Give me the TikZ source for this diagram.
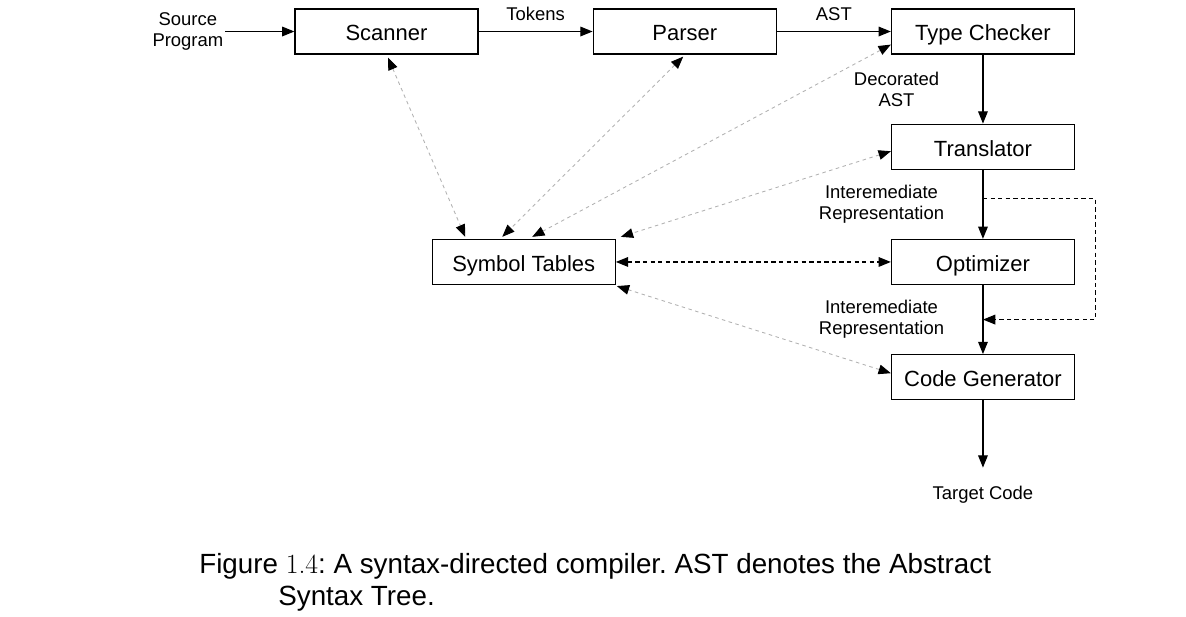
\documentclass[tikz,border=0pt]{standalone}
\usepackage{fontspec}
\setsansfont{Liberation Sans}
\renewcommand{\familydefault}{\sfdefault}
\frenchspacing
\usetikzlibrary{positioning, arrows.meta}

\begin{document}
\begin{tikzpicture}[
  box/.style={draw, line width=0.7pt, minimum width=3.66cm, minimum height=0.9cm, inner sep=0pt, text height=10.8pt, text depth=0pt, font=\fontsize{12.5}{15}\selectfont},
  lbl/.style={align=center, inner sep=1pt, font=\fontsize{10.5}{12}\selectfont},
  captext/.style={inner sep=0pt, font=\fontsize{15.8}{18}\selectfont},
  arr/.style={-{Triangle[length=7pt, width=5.5pt]}, line width=0.7pt},
  dasharr/.style={arr, dash pattern=on 2.5pt off 1.8pt},
  both/.style={{Triangle[length=7pt, width=5.5pt]}-{Triangle[length=7pt, width=5.5pt]}, line width=0.7pt, dash pattern=on 2.5pt off 1.8pt},
  symlink/.style={{Triangle[length=7pt, width=5.5pt, color=black]}-{Triangle[length=7pt, width=5.5pt, color=black]}, gray!60, line width=0.5pt, dash pattern=on 2pt off 2pt}]
\useasboundingbox (0,0) rectangle (23.72,-12.32);
\node[box] (scanner) at (7.73,-0.63) {Scanner};
\node[box, right=2.28cm of scanner] (parser) {Parser};
\node[box, right=2.28cm of parser] (typechk) {Type Checker};
\node[box, below=1.38cm of typechk] (transl) {Translator};
\node[box, below=1.38cm of transl] (optim) {Optimizer};
\node[box, below=1.38cm of optim] (codegen) {Code Generator};
\node[box, left=5.5cm of optim] (symtab) {Symbol Tables};
\node[lbl, left=1.38cm of scanner] (src) {Source\\Program};
\node[lbl, below=1.68cm of codegen] (target) {Target Code};
\coordinate (split) at ([yshift=-0.58cm]transl.south);
\coordinate (merge) at ([yshift=-0.69cm]optim.south);
% main flow
\draw[arr] (src) -- (scanner);
\draw[arr] (scanner) -- node[lbl, above=5pt] {Tokens} (parser);
\draw[arr] (parser) -- node[lbl, above=5pt] {AST} (typechk);
\draw[arr] (typechk) -- node[lbl, left=0.83cm] {Decorated\\AST} (transl);
\draw[arr] (transl) -- node[lbl, left=0.73cm] {Interemediate\\Representation} (optim);
\draw[arr] (optim) -- node[lbl, left=0.73cm] {Interemediate\\Representation} (codegen);
\draw[arr, shorten >=9.5pt] (codegen) -- (target);
\draw[dasharr] (split) -- ++(2.25cm,0) |- (merge);
% symbol table links
\draw[symlink] ([xshift=0.03cm, yshift=-0.06cm]scanner.south) -- ([xshift=-1.17cm, yshift=0.04cm]symtab.north);
\draw[symlink] ([xshift=-0.03cm, yshift=-0.04cm]parser.south) -- ([xshift=-0.43cm, yshift=0.04cm]symtab.north);
\draw[symlink] ([yshift=0.2cm]typechk.south west) -- ([xshift=0.17cm, yshift=0.04cm]symtab.north);
\draw[symlink] ([yshift=-0.09cm]transl.west) -- ([xshift=0.1cm, yshift=0.04cm]symtab.north east);
\draw[both] (symtab) -- (optim);
\draw[symlink] ([yshift=0.08cm]codegen.west) -- ([xshift=0.02cm, yshift=-0.02cm]symtab.south east);
% caption
\node[captext, anchor=base west] (caption) at (3.98,-11.46) {Figure {\rmfamily 1.4}: A syntax-directed compiler. AST denotes the Abstract};
\node[captext, anchor=base west] (caption2) at (5.56,-12.10) {Syntax Tree.};
\end{tikzpicture}
\end{document}
